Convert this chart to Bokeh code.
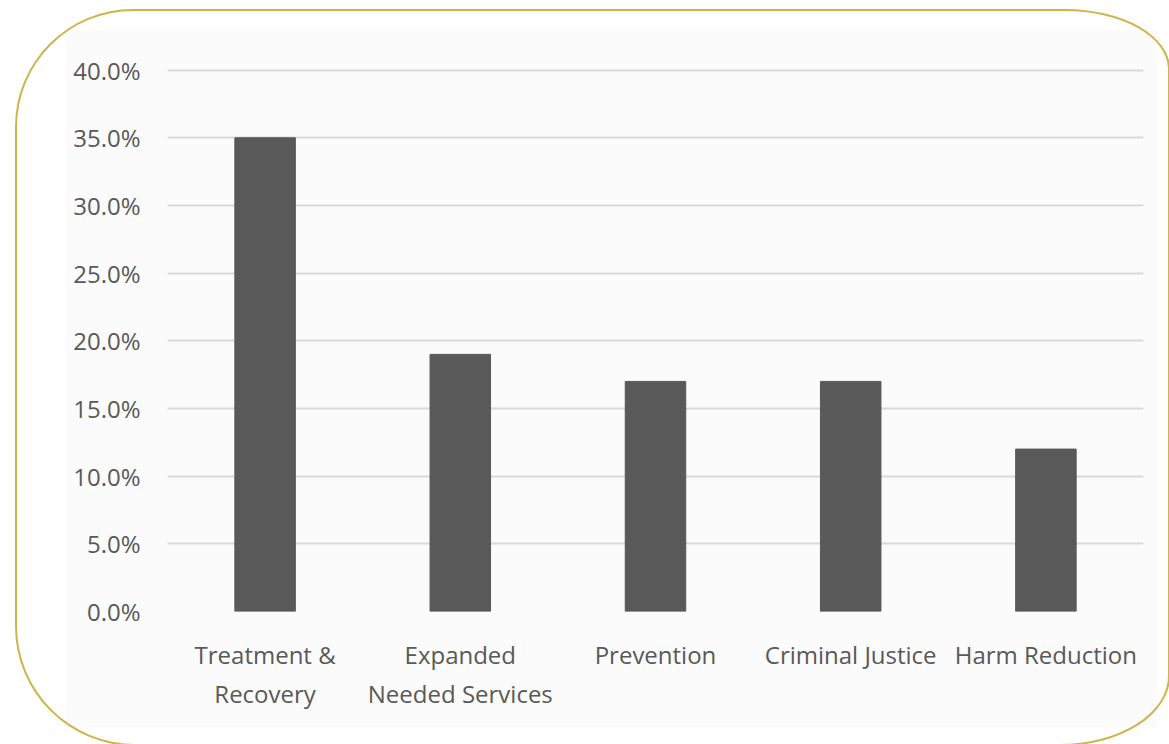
from bokeh.plotting import figure
from bokeh.models import (Range1d, FactorRange, FixedTicker, NumeralTickFormatter,
                          ColumnDataSource, InlineStyleSheet)
from bokeh.embed import file_html
from bokeh.resources import INLINE

categories = ["Treatment &\nRecovery", "Expanded\nNeeded Services", "Prevention",
              "Criminal Justice", "Harm Reduction"]
shares = [0.35, 0.19, 0.17, 0.17, 0.12]
y_ticks = [0.0, 0.05, 0.10, 0.15, 0.20, 0.25, 0.30, 0.35, 0.40]

FONT = "Open Sans"
TXT = "#595959"

src = ColumnDataSource(dict(cat=categories, val=shares))

css = InlineStyleSheet(css="""
:host { overflow: hidden; position: relative; background: #ffffff; }
:host::before {
  content: ""; position: absolute; left: 66px; top: 30px;
  width: 1091px; height: 697px; background: #fbfbfb; pointer-events: none;
}
:host::after {
  content: ""; position: absolute; box-sizing: border-box; left: 15px; top: 9px;
  width: 1155px; height: 737px; border: 2px solid #cfb44a;
  border-radius: 118px 105px 110px 120px / 118px 60px 70px 120px;
  pointer-events: none;
}
""")

p = figure(width=1169, height=744, output_backend="svg", toolbar_location=None,
           x_range=FactorRange(*categories, range_padding=0),
           y_range=Range1d(0, 0.4012),
           min_border_left=167, min_border_right=26, min_border_top=68,
           min_border_bottom=133, stylesheets=[css])

p.background_fill_color = "#fbfbfb"
p.border_fill_color = None
p.outline_line_color = None

p.vbar(x="cat", top="val", width=0.31, source=src, color="#595959")

p.xgrid.grid_line_color = None
p.ygrid.grid_line_color = "#d9d9d9"
p.ygrid.grid_line_width = 2

p.yaxis.ticker = FixedTicker(ticks=y_ticks)
p.yaxis.formatter = NumeralTickFormatter(format="0.0%")
for ax in (p.xaxis[0], p.yaxis[0]):
    ax.axis_line_color = None
    ax.major_tick_line_color = None
    ax.minor_tick_line_color = None
    ax.major_tick_in = 0
    ax.major_tick_out = 0
    ax.major_label_text_font = FONT
    ax.major_label_text_font_size = "24px"
    ax.major_label_text_color = TXT
p.yaxis.major_label_standoff = 27
p.xaxis.major_label_standoff = 26

open("out.html", "w").write(file_html(p, INLINE))
